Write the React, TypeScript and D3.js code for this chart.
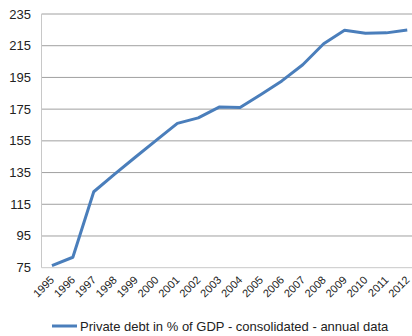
import React from "react";
import * as d3 from "d3";

const years = ["1995","1996","1997","1998","1999","2000","2001","2002","2003","2004","2005","2006","2007","2008","2009","2010","2011","2012"];
const debt = [76.3, 81.6, 122.9, 134, 144.8, 155.5, 166, 169.5, 176.3, 176, 184.2, 192.8, 203, 216.2, 224.7, 222.8, 223.1, 224.9];
const yTicks = [75, 95, 115, 135, 155, 175, 195, 215, 235];
const legendLabel = "Private debt in % of GDP - consolidated - annual data";

export default function App() {
  const W = 412, H = 336;
  const left = 41.5, right = 417.7, top = 14, bottom = 267.7;
  const x = d3.scaleBand().domain(years).range([left, right]);
  const y = d3.scaleLinear().domain([75, 235]).range([bottom, top]);
  const line = d3.line<number>()
    .x((_, i) => (x(years[i]) as number) + x.bandwidth() / 2)
    .y(d => y(d));
  const font = "'Liberation Sans', Arial, sans-serif";
  return (
    <svg width={W} height={H} style={{ position: "absolute", left: 0, top: 0, background: "#fff", overflow: "hidden" }} fontFamily={font}>
      {yTicks.map(t => (
        <g key={t}>
          <line x1={left} x2={right} y1={y(t)} y2={y(t)} stroke={t === 75 ? "#c8c8c8" : "#a0a0a0"} strokeWidth={1} />
          <text x={31} y={y(t) + 4.5} textAnchor="end" fontSize={13} fill="#222">{t}</text>
        </g>
      ))}
      <line x1={left} x2={left} y1={top} y2={bottom} stroke="#c8c8c8" strokeWidth={1} />
      {years.map(yr => {
        const cx = (x(yr) as number) + x.bandwidth() / 2;
        return (
          <text key={yr} transform={`translate(${cx + 3},${bottom + 13}) rotate(-45)`} textAnchor="end" fontSize={11} fill="#222">{yr}</text>
        );
      })}
      <path d={line(debt) || ""} fill="none" stroke="#4a7ebb" strokeWidth={3} strokeLinejoin="round" />
      <line x1={52} x2={77} y1={326} y2={326} stroke="#4a7ebb" strokeWidth={3} />
      <text x={80} y={330.5} fontSize={13} fill="#222">{legendLabel}</text>
    </svg>
  );
}
